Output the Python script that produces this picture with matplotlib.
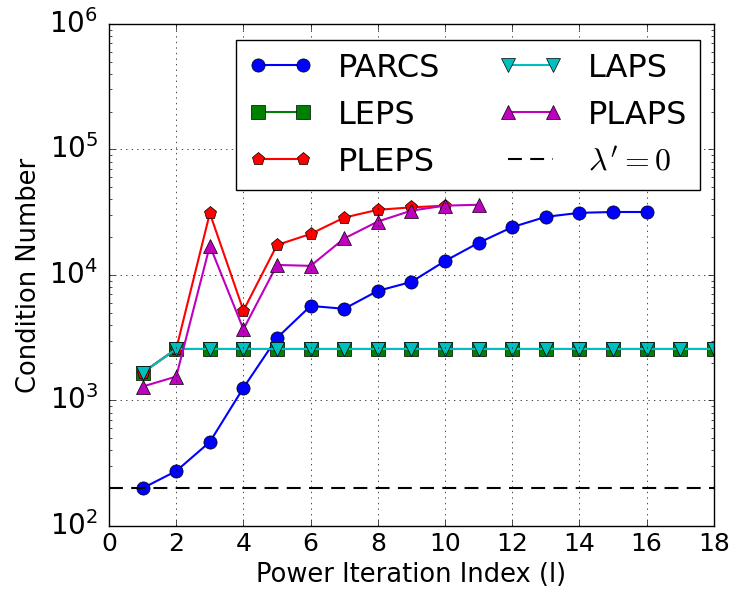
import numpy as np
import matplotlib
matplotlib.use('Agg')
from matplotlib import pyplot as plt

plt.style.use('classic')

# values
iters_parcs = list(range(1, 17))
parcs = [200, 274, 467, 1260, 3150, 5660, 5370, 7460, 8790, 12900,
         18000, 24000, 29000, 31200, 31700, 31700]

iters_flat = list(range(1, 19))
leps = [1665] + [2570] * 17
laps = [1665] + [2570] * 17

iters_pleps = list(range(1, 11))
pleps = [1665, 2570, 31000, 5200, 17300, 21200, 28600, 33000, 34500, 35600]

iters_plaps = list(range(1, 12))
plaps = [1290, 1550, 17100, 3690, 12000, 11800, 19500, 26600, 32500, 35600, 36200]

lambda_zero = 200

fig = plt.figure(figsize=(7.32, 5.95), dpi=100)
ax = fig.add_axes([0.149, 0.116, 0.826, 0.844])

ms = 9.5
lw = 1.5
ax.plot(iters_parcs, parcs, 'b-o', ms=ms, lw=lw, label='PARCS')
ax.plot(iters_flat, leps, 'g-s', ms=ms, lw=lw, label='LEPS')
ax.plot(iters_pleps, pleps, 'r-p', ms=ms, lw=lw, label='PLEPS')
ax.plot(iters_flat, laps, 'c-v', ms=ms, lw=lw, label='LAPS')
ax.plot(iters_plaps, plaps, 'm-^', ms=ms, lw=lw, label='PLAPS')
ax.axhline(lambda_zero, color='k', ls='--', lw=1.5, dashes=(10, 6),
           label=r"$\lambda' = 0$")

ax.set_yscale('log')
ax.set_xlim(0, 18)
ax.set_ylim(1e2, 1e6)
ax.set_xticks(np.arange(0, 19, 2))
ax.tick_params(axis='x', labelsize=18)
ax.tick_params(axis='y', labelsize=20, pad=8)
ax.set_xlabel('Power Iteration Index (l)', fontsize=18.5)
ax.set_ylabel('Condition Number', fontsize=18.5)
ax.grid(True)

ax.legend(loc='upper right', ncol=2, fontsize=23, numpoints=2,
          handlelength=2.0, columnspacing=1.8, borderaxespad=0,
          bbox_to_anchor=(0.977, 0.968))

plt.savefig('out.png', dpi=100)
